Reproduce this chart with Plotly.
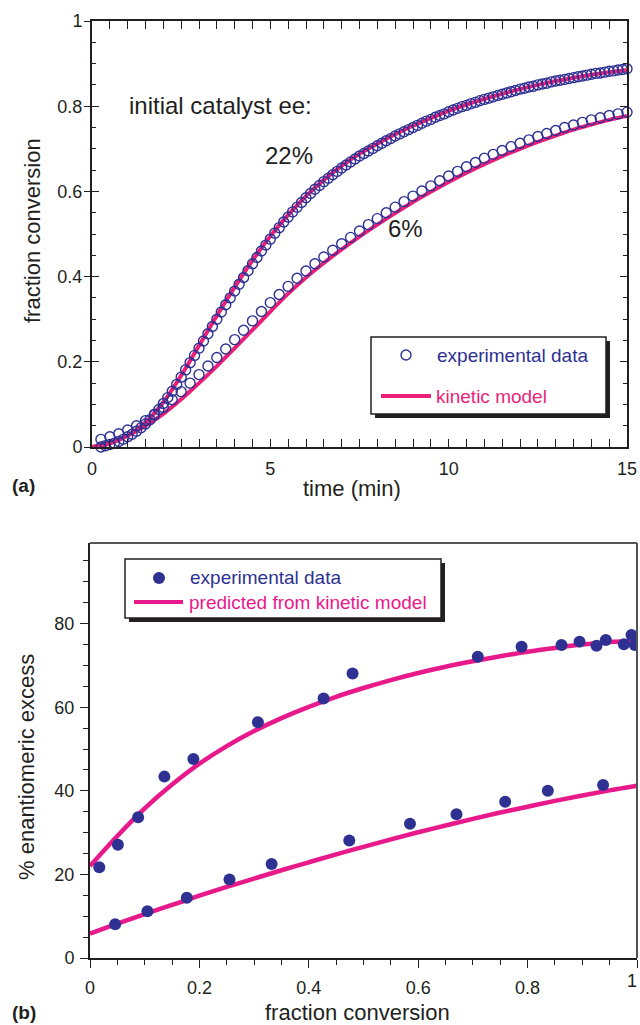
import plotly.graph_objects as go

# ---------------- Panel (a): fraction conversion vs time ----------------
t22 = [0.25, 0.375, 0.5, 0.625, 0.75, 0.875, 1.0, 1.125, 1.25, 1.375, 1.5, 1.625, 1.75, 1.875,
       2.0, 2.125, 2.25, 2.375, 2.5, 2.625, 2.75, 2.875, 3.0, 3.125, 3.25, 3.375, 3.5, 3.625,
       3.75, 3.875, 4.0, 4.125, 4.25, 4.375, 4.5, 4.625, 4.75, 4.875, 5.0, 5.125, 5.25, 5.375,
       5.5, 5.625, 5.75, 5.875, 6.0, 6.125, 6.25, 6.375, 6.5, 6.625, 6.75, 6.875, 7.0, 7.125,
       7.25, 7.375, 7.5, 7.625, 7.75, 7.875, 8.0, 8.125, 8.25, 8.375, 8.5, 8.625, 8.75, 8.875,
       9.0, 9.125, 9.25, 9.375, 9.5, 9.625, 9.75, 9.875, 10.0, 10.125, 10.25, 10.375, 10.5,
       10.625, 10.75, 10.875, 11.0, 11.125, 11.25, 11.375, 11.5, 11.625, 11.75, 11.875, 12.0,
       12.125, 12.25, 12.375, 12.5, 12.625, 12.75, 12.875, 13.0, 13.125, 13.25, 13.375, 13.5,
       13.625, 13.75, 13.875, 14.0, 14.125, 14.25, 14.375, 14.5, 14.625, 14.75, 14.875, 15.0]
conv22 = [0.000, 0.003, 0.006, 0.009, 0.013, 0.018, 0.024, 0.030, 0.037, 0.045, 0.054, 0.064,
          0.075, 0.088, 0.102, 0.116, 0.131, 0.147, 0.164, 0.181, 0.198, 0.215, 0.232, 0.249,
          0.266, 0.283, 0.300, 0.317, 0.334, 0.350, 0.366, 0.382, 0.398, 0.414, 0.430, 0.445,
          0.460, 0.474, 0.488, 0.502, 0.515, 0.528, 0.540, 0.552, 0.563, 0.574, 0.585, 0.595,
          0.605, 0.614, 0.623, 0.631, 0.639, 0.647, 0.655, 0.662, 0.669, 0.676, 0.683, 0.689,
          0.695, 0.701, 0.707, 0.713, 0.719, 0.724, 0.730, 0.735, 0.740, 0.745, 0.750, 0.755,
          0.760, 0.765, 0.769, 0.774, 0.778, 0.782, 0.787, 0.791, 0.795, 0.799, 0.802, 0.806,
          0.809, 0.813, 0.816, 0.819, 0.822, 0.825, 0.828, 0.831, 0.834, 0.837, 0.840, 0.842,
          0.845, 0.847, 0.850, 0.852, 0.854, 0.857, 0.859, 0.861, 0.863, 0.865, 0.867, 0.869,
          0.871, 0.873, 0.875, 0.877, 0.878, 0.880, 0.882, 0.883, 0.885, 0.886, 0.888]

t6 = [0.25, 0.5, 0.75, 1.0, 1.25, 1.5, 1.75, 2.0, 2.25, 2.5, 2.75, 3.0, 3.25, 3.5, 3.75, 4.0,
      4.25, 4.5, 4.75, 5.0, 5.25, 5.5, 5.75, 6.0, 6.25, 6.5, 6.75, 7.0, 7.25, 7.5, 7.75, 8.0,
      8.25, 8.5, 8.75, 9.0, 9.25, 9.5, 9.75, 10.0, 10.25, 10.5, 10.75, 11.0, 11.25, 11.5, 11.75,
      12.0, 12.25, 12.5, 12.75, 13.0, 13.25, 13.5, 13.75, 14.0, 14.25, 14.5, 14.75, 15.0]
conv6 = [0.018, 0.024, 0.031, 0.040, 0.050, 0.062, 0.077, 0.093, 0.111, 0.130, 0.150, 0.170,
         0.190, 0.210, 0.230, 0.252, 0.274, 0.296, 0.318, 0.339, 0.358, 0.377, 0.396, 0.413,
         0.430, 0.446, 0.462, 0.477, 0.492, 0.507, 0.522, 0.536, 0.550, 0.563, 0.576, 0.589,
         0.601, 0.613, 0.625, 0.636, 0.647, 0.658, 0.668, 0.678, 0.687, 0.696, 0.705, 0.713,
         0.721, 0.729, 0.736, 0.743, 0.750, 0.756, 0.762, 0.768, 0.773, 0.778, 0.782, 0.786]

t_model = [0, 0.5, 1, 1.5, 2, 2.5, 3, 3.5, 4, 4.5, 5, 5.5, 6, 6.5, 7, 7.5, 8, 8.5, 9, 9.5, 10,
           10.5, 11, 11.5, 12, 12.5, 13, 13.5, 14, 14.5, 15]
model22 = [0, 0.008, 0.027, 0.058, 0.105, 0.168, 0.238, 0.308, 0.375, 0.438, 0.495, 0.545,
           0.589, 0.627, 0.660, 0.688, 0.712, 0.734, 0.754, 0.772, 0.789, 0.804, 0.817, 0.829,
           0.840, 0.850, 0.859, 0.867, 0.874, 0.880, 0.885]
model6 = [0, 0.010, 0.027, 0.050, 0.078, 0.112, 0.150, 0.190, 0.232, 0.275, 0.318, 0.360,
          0.398, 0.432, 0.464, 0.494, 0.522, 0.549, 0.575, 0.599, 0.622, 0.644, 0.664, 0.683,
          0.700, 0.716, 0.731, 0.745, 0.757, 0.768, 0.777]

# ---------------- Panel (b): % ee vs fraction conversion ----------------
ee22_x = [0.017, 0.051, 0.088, 0.136, 0.189, 0.307, 0.427, 0.480, 0.709, 0.789, 0.862,
          0.895, 0.926, 0.943, 0.976, 0.990, 0.996]
ee22_y = [21.7, 27.1, 33.7, 43.4, 47.6, 56.4, 62.1, 68.1, 72.1, 74.5, 74.9, 75.7, 74.7,
          76.1, 75.1, 77.3, 74.9]
ee6_x = [0.046, 0.105, 0.177, 0.255, 0.332, 0.474, 0.585, 0.670, 0.759, 0.837, 0.938]
ee6_y = [8.1, 11.2, 14.4, 18.8, 22.5, 28.1, 32.1, 34.4, 37.4, 40.0, 41.4]

pred_x = [0, 0.05, 0.1, 0.15, 0.2, 0.25, 0.3, 0.35, 0.4, 0.45, 0.5, 0.55, 0.6, 0.65, 0.7,
          0.75, 0.8, 0.85, 0.9, 0.95, 1.0]
pred22 = [22.0, 29.2, 35.8, 41.5, 46.5, 50.7, 54.3, 57.4, 60.1, 62.5, 64.6, 66.5, 68.2, 69.7,
          71.0, 72.2, 73.3, 74.2, 75.0, 75.6, 76.0]
pred6 = [5.8, 8.2, 10.5, 12.7, 14.9, 17.0, 19.0, 21.0, 22.9, 24.8, 26.6, 28.4, 30.1, 31.7,
         33.3, 34.8, 36.2, 37.6, 38.9, 40.1, 41.2]

# tick labels of panel (b) x axis (the last one is placed flush with the page edge)
xb_tickvals = [0, 0.2, 0.4, 0.6, 0.8, 1.0]
xb_ticktext = ["0", "0.2", "0.4", "0.6", "0.8", ""]
xb_last_label = "1"

BLUE = "#2E3192"
PINK_A = "#EC1F78"
PINK_B = "#E8198B"
INK = "#231F20"
FONT = "Liberation Sans, Arial, Helvetica, sans-serif"
W, H = 640, 1025


def px(x):
    return x / W


def py(y):
    return 1 - y / H


fig = go.Figure()

# model lines (panel a) under the circles
for ys in (model22, model6):
    fig.add_trace(go.Scatter(x=t_model, y=ys, mode="lines", line=dict(color=PINK_A, width=4, shape="spline"),
                             xaxis="x", yaxis="y", showlegend=False, hoverinfo="skip"))
for tt, cc in ((t22, conv22), (t6, conv6)):
    fig.add_trace(go.Scatter(x=tt, y=cc, mode="markers",
                             marker=dict(symbol="circle-open", size=10, color=BLUE, line=dict(width=1.4, color=BLUE)),
                             xaxis="x", yaxis="y", showlegend=False, cliponaxis=False))

# panel b
for ys in (pred22, pred6):
    fig.add_trace(go.Scatter(x=pred_x, y=ys, mode="lines", line=dict(color=PINK_B, width=4.5, shape="spline"),
                             xaxis="x2", yaxis="y2", showlegend=False, hoverinfo="skip"))
for xx, yy in ((ee22_x, ee22_y), (ee6_x, ee6_y)):
    fig.add_trace(go.Scatter(x=xx, y=yy, mode="markers", marker=dict(size=12, color=BLUE),
                             xaxis="x2", yaxis="y2", showlegend=False))

# invisible trace so the overlay axis is drawn
fig.add_trace(go.Scatter(x=[], y=[], xaxis="x", yaxis="y3", showlegend=False))

tickfont = dict(family=FONT, size=18, color=INK)

fig.update_layout(
    template="none",
    width=W, height=H, margin=dict(l=0, r=0, t=0, b=0, autoexpand=False),
    paper_bgcolor="white", plot_bgcolor="white", showlegend=False,
    xaxis=dict(domain=[px(92), px(627)], range=[0, 15], anchor="y", dtick=5, tick0=0,
               ticks="inside", ticklen=8, tickwidth=1.3, tickcolor=INK,
               minor=dict(ticks="inside", ticklen=5, dtick=0.5, tickcolor=INK, tickwidth=1.1),
               showline=True, linecolor=INK, linewidth=2, mirror="allticks", automargin=False,
               showgrid=False, zeroline=False, tickfont=tickfont, ticklabelstandoff=4,
               ticklabeloverflow="allow"),
    yaxis=dict(domain=[py(447), py(21)], range=[0, 1], anchor="x", dtick=0.2, tick0=0,
               ticks="inside", ticklen=7, tickwidth=1.3, tickcolor=INK,
               minor=dict(ticks="inside", ticklen=4, dtick=0.05, tickcolor=INK, tickwidth=1.1),
               showline=True, linecolor=INK, linewidth=2, mirror="allticks", automargin=False,
               showgrid=False, zeroline=False, tickfont=tickfont, ticklabelstandoff=4,
               ticklabeloverflow="allow"),
    yaxis3=dict(overlaying="y", anchor="x", range=[0, 1], dtick=0.2, tick0=0, side="left",
                ticks="outside", ticklen=7, tickwidth=1.3, tickcolor=INK, automargin=False,
                showticklabels=False, showline=False, showgrid=False, zeroline=False),
    xaxis2=dict(domain=[px(90), px(637)], range=[0, 1], anchor="y2",
                tickmode="array", tickvals=xb_tickvals, ticktext=xb_ticktext,
                ticks="outside", ticklen=8, tickwidth=1.3, tickcolor=INK,
                minor=dict(ticks="outside", ticklen=5, dtick=0.05, tick0=0, tickcolor=INK, tickwidth=1.1),
                showline=True, linecolor=INK, linewidth=2, automargin=False,
                showgrid=False, zeroline=False, tickfont=tickfont, ticklabelstandoff=4,
                ticklabeloverflow="allow"),
    yaxis2=dict(domain=[py(958), py(543)], range=[0, 99.3], anchor="x2", dtick=20, tick0=0,
                ticks="outside", ticklen=8, tickwidth=1.3, tickcolor=INK,
                minor=dict(ticks="outside", ticklen=5, dtick=5, tickcolor=INK, tickwidth=1.1),
                showline=True, linecolor=INK, linewidth=2, automargin=False,
                showgrid=False, zeroline=False, tickfont=tickfont, ticklabelstandoff=2,
                ticklabeloverflow="allow"),
)

shapes = []
# panel b top/right frame (gray)
shapes.append(dict(type="line", xref="x2 domain", yref="y2 domain", x0=0, x1=1, y0=1, y1=1,
                   line=dict(color="#555555", width=2)))
shapes.append(dict(type="line", xref="x2 domain", yref="y2 domain", x0=1, x1=1, y0=0, y1=1,
                   line=dict(color="#555555", width=2)))


def legend_box(x0, y0, x1, y1, off):
    shapes.append(dict(type="rect", xref="paper", yref="paper", x0=px(x0 + off), x1=px(x1 + off),
                       y0=py(y1 + off), y1=py(y0 + off), fillcolor=INK, line=dict(width=0), layer="above"))
    shapes.append(dict(type="rect", xref="paper", yref="paper", x0=px(x0), x1=px(x1),
                       y0=py(y1), y1=py(y0), fillcolor="white", line=dict(color=INK, width=1.5), layer="above"))


legend_box(371, 337, 606, 414, 4)
legend_box(125, 559, 441, 618, 4)

# legend (a) symbols
shapes.append(dict(type="circle", xref="paper", yref="paper", xsizemode="pixel", ysizemode="pixel",
                   xanchor=px(406), yanchor=py(355), x0=-5, x1=5, y0=-5, y1=5,
                   line=dict(color=BLUE, width=1.4), fillcolor="white", layer="above"))
shapes.append(dict(type="line", xref="paper", yref="paper", x0=px(381), x1=px(431), y0=py(396), y1=py(396),
                   line=dict(color=PINK_A, width=4), layer="above"))
# legend (b) symbols
shapes.append(dict(type="circle", xref="paper", yref="paper", xsizemode="pixel", ysizemode="pixel",
                   xanchor=px(159), yanchor=py(578), x0=-6, x1=6, y0=-6, y1=6,
                   line=dict(color=BLUE, width=0), fillcolor=BLUE, layer="above"))
shapes.append(dict(type="line", xref="paper", yref="paper", x0=px(134), x1=px(183), y0=py(602), y1=py(602),
                   line=dict(color=PINK_B, width=4), layer="above"))

fig.update_layout(shapes=shapes)


def ann(text, x, y, size, color=INK, xanchor="center", angle=0, bold=False):
    if bold:
        text = "<b>" + text + "</b>"
    fig.add_annotation(text=text, x=px(x), y=py(y), xref="paper", yref="paper", showarrow=False,
                       xanchor=xanchor, yanchor="middle", textangle=angle,
                       font=dict(family=FONT, size=size, color=color))


ann("experimental data", 435, 355, 19, BLUE, "left")
ann("kinetic model", 434, 396, 19, PINK_A, "left")
ann("experimental data", 188, 577, 19, BLUE, "left")
ann("predicted from kinetic model", 187, 602, 19, PINK_B, "left")

ann("initial catalyst ee:", 127, 106, 24, INK, "left")
ann("22%", 289, 155, 24)
ann("6%", 405, 229, 24)

ann("time (min)", 352, 488, 22)
ann("fraction conversion", 33, 231, 22, angle=-90)
ann("fraction conversion", 357, 1012, 22)
ann("% enantiomeric excess", 26, 767, 22, angle=-90)
ann("(a)", 10, 485, 19, xanchor="left", bold=True)
ann("(b)", 10, 1012, 19, xanchor="left", bold=True)

# last x tick label of panel (b), kept inside the page
fig.add_annotation(text=xb_last_label, x=1.0, y=py(981), xref="paper", yref="paper", showarrow=False,
                   xanchor="right", yanchor="middle", xshift=-1,
                   font=dict(family=FONT, size=18, color=INK))

fig.write_html("out.html")
